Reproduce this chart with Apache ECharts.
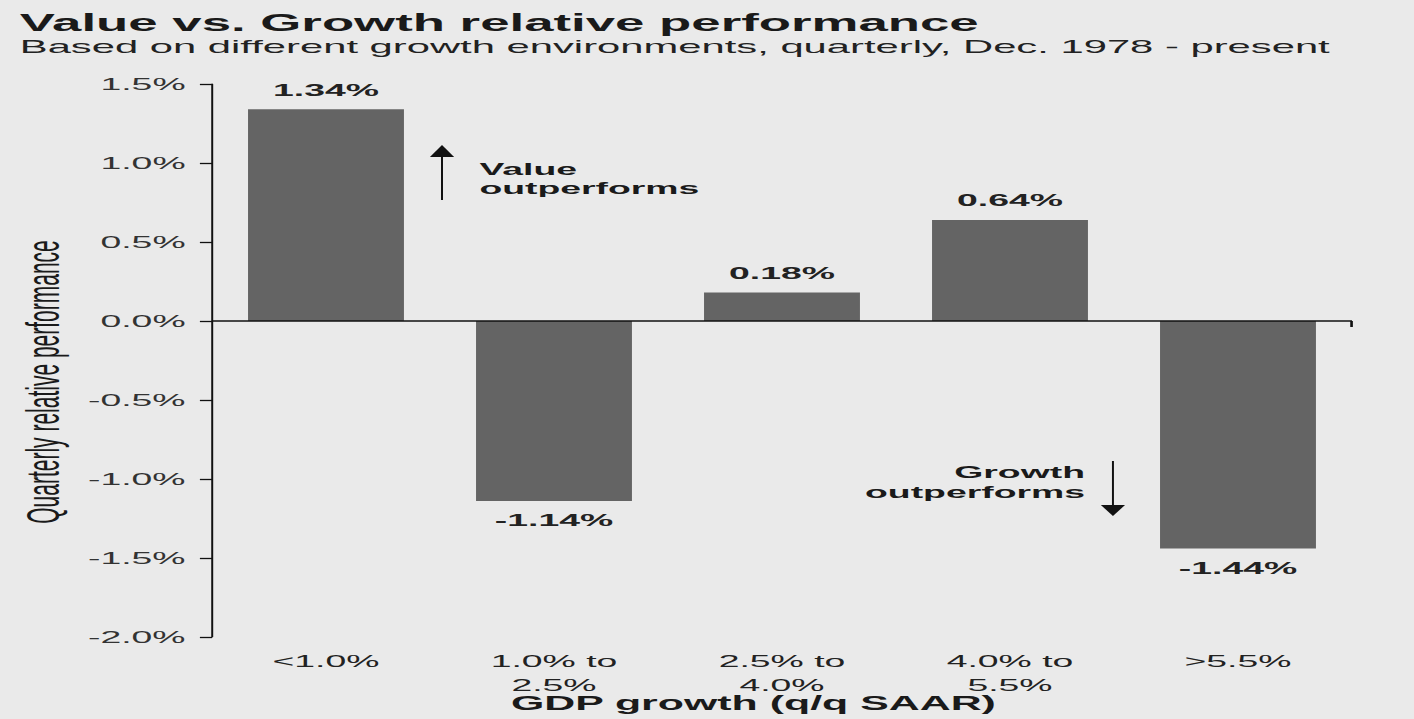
<!DOCTYPE html>
<html><head><meta charset="utf-8">
<script src="https://cdn.jsdelivr.net/npm/echarts@6/dist/echarts.min.js"></script>
<style>
html,body{margin:0;padding:0;background:#eaeaea;overflow:hidden;width:1414px;height:719px}
#c{width:643px;height:719px;transform:scaleX(2.19907);transform-origin:0 0}
</style>
</head><body><div id="c"></div>
<script>
const categories = ['<1.0%', '1.0% to\n2.5%', '2.5% to\n4.0%', '4.0% to\n5.5%', '>5.5%'];
const values = [1.34, -1.14, 0.18, 0.64, -1.44];
const yTicks = [-2.0, -1.5, -1.0, -0.5, 0.0, 0.5, 1.0, 1.5];

// The reference image is stretched horizontally (~2.2x); the chart is laid out
// at natural width and stretched with CSS to match.
const chart = echarts.init(document.getElementById('c'), null, {renderer: 'svg'});
const font = '"Liberation Sans", Arial, sans-serif';
const ink = '#1a1a1a';
chart.setOption({
  backgroundColor: '#eaeaea',
  animation: false,
  title: [
    {text: 'Value vs. Growth relative performance', left: 9, top: 10.5, padding: 0,
     textStyle: {fontFamily: font, fontSize: 24, fontWeight: 'bold', color: ink}},
    {text: 'Based on different growth environments, quarterly, Dec. 1978 - present', left: 9, top: 37.5, padding: 0,
     textStyle: {fontFamily: font, fontSize: 19, fontWeight: 'normal', color: '#222'}}
  ],
  grid: {left: 96.4, top: 84, right: 28.2, bottom: 82},
  xAxis: {
    type: 'category', data: categories,
    axisLine: {show: false}, axisTick: {show: false},
    axisLabel: {fontFamily: font, fontSize: 17, color: '#222', lineHeight: 24, margin: 12, interval: 0}
  },
  yAxis: {
    type: 'value', min: yTicks[0], max: yTicks[yTicks.length - 1], interval: 0.5,
    axisLine: {show: true, lineStyle: {color: '#111', width: 0.9}},
    axisTick: {show: true, length: 5.5, lineStyle: {color: '#111', width: 1.3}},
    splitLine: {show: false},
    axisLabel: {fontFamily: font, fontSize: 17, color: '#333', margin: 12,
      formatter: v => v.toFixed(1) + '%'}
  },
  series: [{
    type: 'bar', barWidth: 70.9,
    data: values.map(v => ({value: v, label: {position: v < 0 ? 'bottom' : 'top'}})),
    itemStyle: {color: '#646464'},
    label: {show: true, fontFamily: font, fontSize: 17, fontWeight: 'bold', color: '#222',
      formatter: p => p.value.toFixed(2) + '%', distance: 11},
    markLine: {
      silent: true, symbol: 'none', label: {show: false},
      lineStyle: {color: '#111', width: 1.5, type: 'solid'},
      data: [{yAxis: 0}]
    }
  }],
  graphic: [
    {type: 'text', x: 19.6, y: 382, rotation: Math.PI / 2,
     style: {x: 0, y: 0, text: 'Quarterly relative performance', fontFamily: font, fontSize: 21,
       fill: ink, align: 'center', verticalAlign: 'middle'}},
    {type: 'line', shape: {x1: 614.6, y1: 321, x2: 614.6, y2: 327}, style: {stroke: '#111', lineWidth: 1.2}},
    {type: 'line', shape: {x1: 201, y1: 200, x2: 201, y2: 152}, style: {stroke: '#111', lineWidth: 0.9}},
    {type: 'polygon', shape: {points: [[195.5, 157], [206.5, 157], [201, 145]]}, style: {fill: '#111'}},
    {type: 'text', style: {x: 218, y: 160, text: 'Value\noutperforms', fontFamily: font, fontSize: 17,
      fontWeight: 'bold', fill: ink, lineHeight: 19, align: 'left'}},
    {type: 'line', shape: {x1: 506.1, y1: 461, x2: 506.1, y2: 510}, style: {stroke: '#111', lineWidth: 0.9}},
    {type: 'polygon', shape: {points: [[500.6, 505], [511.6, 505], [506.1, 516]]}, style: {fill: '#111'}},
    {type: 'text', style: {x: 493.4, y: 462, text: 'Growth\noutperforms', fontFamily: font, fontSize: 17,
      fontWeight: 'bold', fill: ink, lineHeight: 20, align: 'right'}},
    {type: 'text', style: {x: 342.6, y: 703, text: 'GDP growth (q/q SAAR)', fontFamily: font, fontSize: 19.5,
      fontWeight: 'bold', fill: ink, align: 'center', verticalAlign: 'middle'}}
  ]
});
</script></body></html>
